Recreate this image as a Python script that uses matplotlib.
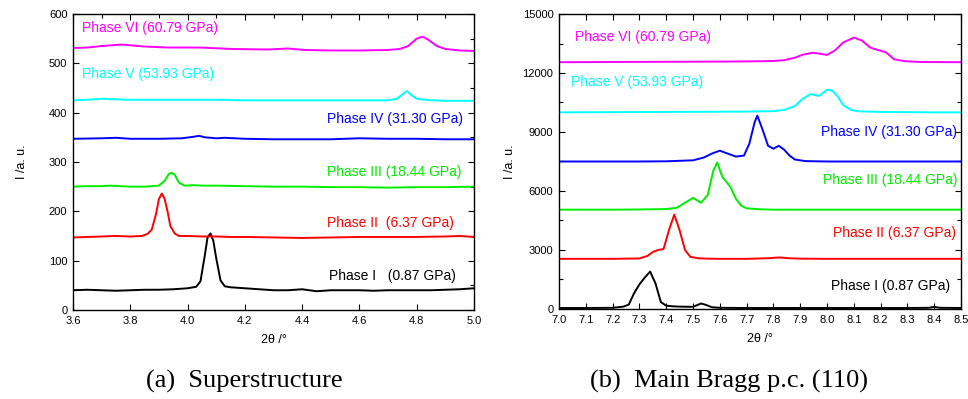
import matplotlib.pyplot as plt
from matplotlib.ticker import MultipleLocator

plt.rcParams['font.family'] = ['Liberation Sans', 'DejaVu Sans']

# ---- (a) superstructure peaks ----
a1_x = [3.60, 3.65, 3.70, 3.75, 3.80, 3.85, 3.90, 3.95, 4.00, 4.03, 4.045, 4.06, 4.07, 4.08, 4.09, 4.10, 4.115, 4.13,
        4.15, 4.20, 4.25, 4.30, 4.35, 4.40, 4.45, 4.50, 4.55, 4.60, 4.65, 4.70, 4.75, 4.80, 4.85, 4.90, 4.95, 5.00]
a1_y = [40, 41, 40, 39, 40, 41, 41, 42, 44, 47, 58, 110, 148, 155, 140, 105, 60, 48,
        46, 44, 42, 40, 40, 42, 38, 40, 40, 40, 39, 40, 40, 40, 40, 41, 42, 44]

a2_x = [3.60, 3.65, 3.70, 3.75, 3.80, 3.84, 3.86, 3.875, 3.89, 3.90, 3.91, 3.92, 3.93, 3.94, 3.955, 3.97, 4.00,
        4.05, 4.10, 4.15, 4.20, 4.30, 4.40, 4.50, 4.60, 4.70, 4.80, 4.90, 4.95, 5.00]
a2_y = [147, 148, 149, 150, 149, 150, 154, 163, 195, 225, 236, 225, 200, 170, 155, 150, 150,
        149, 149, 148, 148, 147, 146, 147, 148, 148, 148, 149, 150, 148]

a3_x = [3.60, 3.65, 3.70, 3.73, 3.80, 3.85, 3.90, 3.92, 3.935, 3.945, 3.955, 3.97, 3.99, 4.02, 4.05, 4.10, 4.20,
        4.30, 4.40, 4.50, 4.60, 4.70, 4.80, 4.90, 5.00]
a3_y = [250, 251, 251, 252, 250, 250, 252, 262, 276, 278, 274, 258, 252, 253, 252, 252, 251,
        250, 250, 249, 249, 248, 249, 249, 250]

a4_x = [3.60, 3.70, 3.75, 3.80, 3.90, 3.98, 4.02, 4.04, 4.06, 4.10, 4.13, 4.20, 4.30, 4.40, 4.50, 4.60, 4.70,
        4.80, 4.90, 5.00]
a4_y = [347, 348, 349, 347, 347, 348, 351, 353, 350, 348, 349, 347, 346, 346, 346, 348, 347,
        347, 346, 346]

a5_x = [3.60, 3.65, 3.70, 3.75, 3.80, 3.90, 4.00, 4.10, 4.20, 4.30, 4.40, 4.50, 4.60, 4.65, 4.70, 4.73, 4.75,
        4.765, 4.78, 4.80, 4.85, 4.90, 5.00]
a5_y = [425, 426, 428, 427, 426, 426, 426, 426, 425, 425, 425, 425, 425, 425, 425, 428, 437,
        444, 436, 428, 425, 424, 424]

a6_x = [3.60, 3.65, 3.70, 3.77, 3.85, 3.93, 4.04, 4.16, 4.28, 4.35, 4.41, 4.50, 4.60, 4.70, 4.74, 4.77, 4.80,
        4.82, 4.84, 4.87, 4.90, 4.95, 5.00]
a6_y = [531, 532, 535, 538, 534, 532, 532, 529, 528, 530, 527, 526, 526, 527, 529, 535, 550,
        554, 548, 535, 529, 526, 525]

# ---- (b) main Bragg p.c. (110) ----
b1_x = [7.00, 7.10, 7.20, 7.24, 7.26, 7.28, 7.30, 7.32, 7.34, 7.36, 7.38, 7.40, 7.42, 7.45, 7.50, 7.52, 7.53,
        7.55, 7.57, 7.60, 7.70, 7.80, 7.90, 8.00, 8.10, 8.20, 8.30, 8.38, 8.40, 8.42, 8.50]
b1_y = [50, 50, 60, 120, 220, 800, 1250, 1600, 1900, 1300, 350, 170, 140, 120, 110, 220, 280,
        200, 90, 60, 50, 50, 50, 50, 50, 50, 50, 60, 110, 60, 50]

b2_x = [7.00, 7.10, 7.20, 7.30, 7.33, 7.35, 7.37, 7.39, 7.41, 7.43, 7.45, 7.47, 7.49, 7.52, 7.55, 7.60, 7.70,
        7.78, 7.82, 7.86, 7.90, 8.00, 8.10, 8.20, 8.30, 8.40, 8.50]
b2_y = [2550, 2550, 2550, 2570, 2700, 2900, 3000, 3050, 4000, 4800, 4000, 3000, 2650, 2580, 2560, 2550, 2550,
        2580, 2620, 2580, 2560, 2550, 2550, 2550, 2550, 2550, 2550]

b3_x = [7.00, 7.10, 7.20, 7.30, 7.40, 7.44, 7.47, 7.50, 7.53, 7.555, 7.575, 7.59, 7.61, 7.64, 7.66, 7.68, 7.70,
        7.75, 7.80, 7.90, 8.00, 8.10, 8.20, 8.30, 8.40, 8.50]
b3_y = [5050, 5050, 5050, 5060, 5080, 5150, 5400, 5650, 5400, 5800, 7000, 7450, 6700, 6200, 5600, 5250, 5120,
        5070, 5050, 5050, 5050, 5050, 5050, 5050, 5050, 5050]

b4_x = [7.00, 7.10, 7.20, 7.30, 7.40, 7.50, 7.54, 7.57, 7.60, 7.63, 7.66, 7.69, 7.71, 7.73, 7.74, 7.76, 7.78,
        7.80, 7.82, 7.84, 7.86, 7.88, 7.92, 8.00, 8.10, 8.20, 8.30, 8.40, 8.50]
b4_y = [7500, 7500, 7500, 7500, 7510, 7560, 7700, 7900, 8050, 7900, 7750, 7800, 8400, 9500, 9830, 9100, 8300,
        8150, 8300, 8100, 7800, 7600, 7520, 7500, 7500, 7500, 7500, 7500, 7500]

b5_x = [7.00, 7.20, 7.40, 7.60, 7.70, 7.80, 7.84, 7.88, 7.91, 7.94, 7.97, 8.00, 8.02, 8.04, 8.06, 8.09, 8.12,
        8.20, 8.30, 8.40, 8.50]
b5_y = [10000, 10010, 10020, 10030, 10040, 10060, 10120, 10320, 10700, 10930, 10830, 11150, 11100, 10800, 10370,
        10120, 10050, 10020, 10010, 10000, 10000]

b6_x = [7.00, 7.20, 7.40, 7.60, 7.70, 7.80, 7.84, 7.88, 7.91, 7.945, 7.97, 8.00, 8.03, 8.06, 8.10, 8.13, 8.16,
        8.19, 8.22, 8.25, 8.29, 8.35, 8.50]
b6_y = [12550, 12560, 12570, 12580, 12590, 12610, 12650, 12780, 12930, 13030, 12990, 12920, 13150, 13550, 13800,
        13650, 13300, 13170, 13050, 12700, 12600, 12560, 12550]

colors = ['black', '#ff0000', '#00ee00', '#0000ff', '#00ffff', '#ff00ff']
labels_a = ['Phase I   (0.87 GPa)', 'Phase II  (6.37 GPa)', 'Phase III (18.44 GPa)',
            'Phase IV (31.30 GPa)', 'Phase V (53.93 GPa)', 'Phase VI (60.79 GPa)']
labels_b = ['Phase I (0.87 GPa)', 'Phase II (6.37 GPa)', 'Phase III (18.44 GPa)',
            'Phase IV (31.30 GPa)', 'Phase V (53.93 GPa)', 'Phase VI (60.79 GPa)']

fig = plt.figure(figsize=(9.68, 3.99), dpi=100)
ax1 = fig.add_axes([0.0754, 0.2231, 0.4143, 0.7419])
ax2 = fig.add_axes([0.5775, 0.2256, 0.4153, 0.7393])

series_a = [(a1_x, a1_y), (a2_x, a2_y), (a3_x, a3_y), (a4_x, a4_y), (a5_x, a5_y), (a6_x, a6_y)]
series_b = [(b1_x, b1_y), (b2_x, b2_y), (b3_x, b3_y), (b4_x, b4_y), (b5_x, b5_y), (b6_x, b6_y)]

for (x, y), c in zip(series_a, colors):
    ax1.plot(x, y, color=c, lw=1.4)
for (x, y), c in zip(series_b, colors):
    ax2.plot(x, y, color=c, lw=1.4)

# label positions (data coords) and alignment
pos_a = [(4.935, 69, 'right'), (4.93, 177, 'right'), (4.955, 280, 'right'),
         (4.962, 387, 'right'), (3.631, 478, 'left'), (3.631, 572, 'left')]
pos_b = [(8.46, 1170, 'right'), (8.48, 3880, 'right'), (8.486, 6560, 'right'),
         (8.486, 8980, 'right'), (7.046, 11520, 'left'), (7.059, 13810, 'left')]
for (px, py, ha), lab, c in zip(pos_a, labels_a, colors):
    ax1.text(px, py, lab, color=c, ha=ha, va='center', fontsize=10)
for (px, py, ha), lab, c in zip(pos_b, labels_b, colors):
    ax2.text(px, py, lab, color=c, ha=ha, va='center', fontsize=10)

ax1.set_xlim(3.6, 5.0)
ax1.set_ylim(0, 600)
ax1.xaxis.set_major_locator(MultipleLocator(0.2))
ax1.xaxis.set_minor_locator(MultipleLocator(0.1))
ax1.yaxis.set_major_locator(MultipleLocator(100))
ax1.yaxis.set_minor_locator(MultipleLocator(50))
ax1.xaxis.set_major_formatter(plt.FormatStrFormatter('%.1f'))

ax2.set_xlim(7.0, 8.5)
ax2.set_ylim(0, 15000)
ax2.xaxis.set_major_locator(MultipleLocator(0.1))
ax2.yaxis.set_major_locator(MultipleLocator(3000))
ax2.yaxis.set_minor_locator(MultipleLocator(1500))
ax2.xaxis.set_major_formatter(plt.FormatStrFormatter('%.1f'))

for ax in (ax1, ax2):
    ax.tick_params(which='both', direction='in', top=True, bottom=True, left=True, right=True,
                   labelsize=8, length=4, width=0.8, pad=4)
    ax.tick_params(which='minor', length=3)
    ax.tick_params(axis='x', which='minor', bottom=False)
    for s in ax.spines.values():
        s.set_linewidth(1.0)
    ax.set_xlabel('2θ /°', fontsize=9, labelpad=6)

ax1.tick_params(axis='y', which='minor', left=False)
ax1.set_ylabel('I /a. u.', fontsize=9, labelpad=15)
ax2.set_ylabel('I /a. u.', fontsize=9, labelpad=5)

fig.text(0.252, 0.043, '(a)  Superstructure', ha='center', va='center', fontsize=19, family='Liberation Serif')
fig.text(0.753, 0.043, '(b)  Main Bragg p.c. (110)', ha='center', va='center', fontsize=19, family='Liberation Serif')

fig.savefig('out.png', dpi=100)
